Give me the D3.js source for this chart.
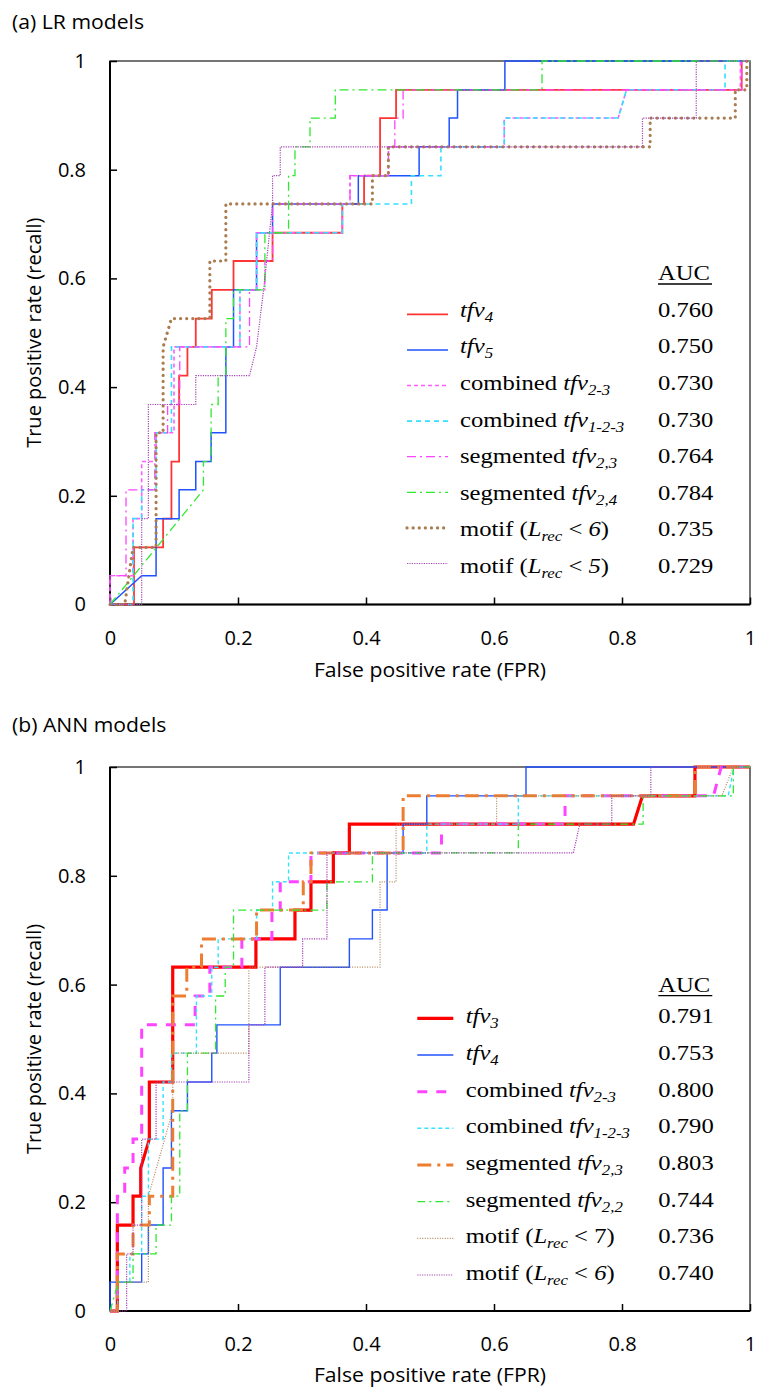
<!DOCTYPE html>
<html>
<head>
<meta charset="utf-8">
<script src="https://cdn.jsdelivr.net/npm/d3@7"></script>
<style>
    body { margin: 0; background: #fff; }
    svg text { font-family: "Open Sans", sans-serif; fill: #000; }
    .legend text { font-family: "Liberation Serif", "Times New Roman", serif; font-size: 22px; white-space: pre; }
</style>
</head>
<body>
<div id="chart"></div>
<script>
// axis ticks, same on both panels
var fprTicks = [0, 0.2, 0.4, 0.6, 0.8, 1];
var tprTicks = [0, 0.2, 0.4, 0.6, 0.8, 1];

// ---- (a) LR models, ROC points as [FPR, TPR] ----
var lrTfv4 = [[0,0],[0.0375,0],[0.0375,0.105],[0.083,0.105],[0.083,0.158],[0.096,0.158],[0.096,0.263],[0.108,0.263],[0.108,0.421],[0.121,0.421],[0.121,0.474],[0.134,0.474],[0.134,0.526],[0.159,0.526],[0.159,0.579],[0.193,0.579],[0.193,0.632],[0.254,0.632],[0.254,0.684],[0.363,0.684],[0.363,0.737],[0.397,0.737],[0.397,0.789],[0.422,0.789],[0.422,0.895],[0.447,0.895],[0.447,0.947],[0.987,0.947],[0.987,1],[1,1]];
var lrTfv5 = [[0,0],[0.0495,0.053],[0.072,0.053],[0.072,0.158],[0.108,0.158],[0.108,0.211],[0.134,0.211],[0.134,0.263],[0.158,0.263],[0.158,0.316],[0.181,0.316],[0.181,0.474],[0.193,0.474],[0.193,0.579],[0.229,0.579],[0.229,0.684],[0.254,0.684],[0.254,0.737],[0.388,0.737],[0.388,0.789],[0.483,0.789],[0.483,0.842],[0.530,0.842],[0.530,0.895],[0.543,0.895],[0.543,0.947],[0.617,0.947],[0.617,1],[1,1]];
var lrCombined23 = [[0,0],[0,0.053],[0.036,0.053],[0.036,0.158],[0.0495,0.158],[0.0495,0.263],[0.072,0.263],[0.072,0.316],[0.1,0.316],[0.1,0.474],[0.203,0.474],[0.203,0.579],[0.229,0.579],[0.229,0.684],[0.363,0.684],[0.363,0.737],[0.375,0.737],[0.375,0.789],[0.435,0.789],[0.435,0.842],[0.616,0.842],[0.616,0.895],[0.794,0.895],[0.807,0.947],[0.985,0.947],[0.985,1],[1,1]];
var lrCombined123 = [[0,0],[0.036,0],[0.036,0.158],[0.0495,0.158],[0.0495,0.211],[0.072,0.211],[0.072,0.316],[0.096,0.316],[0.096,0.474],[0.203,0.474],[0.203,0.579],[0.229,0.579],[0.229,0.684],[0.363,0.684],[0.363,0.737],[0.471,0.737],[0.471,0.789],[0.517,0.789],[0.517,0.842],[0.616,0.842],[0.616,0.895],[0.794,0.895],[0.807,0.947],[0.961,0.947],[0.961,1],[1,1]];
var lrSegmented23 = [[0,0],[0,0.053],[0.025,0.053],[0.025,0.211],[0.07,0.211],[0.07,0.316],[0.09,0.316],[0.09,0.368],[0.109,0.368],[0.109,0.474],[0.218,0.474],[0.218,0.579],[0.242,0.579],[0.242,0.632],[0.254,0.632],[0.254,0.737],[0.375,0.737],[0.375,0.789],[0.435,0.789],[0.435,0.842],[0.445,0.842],[0.445,0.895],[0.458,0.895],[0.458,0.947],[0.987,0.947],[0.987,1],[1,1]];
var lrSegmented24 = [[0,0],[0.146,0.211],[0.146,0.263],[0.158,0.263],[0.158,0.368],[0.169,0.368],[0.169,0.421],[0.181,0.421],[0.181,0.526],[0.193,0.526],[0.193,0.579],[0.242,0.579],[0.242,0.684],[0.279,0.684],[0.279,0.789],[0.289,0.789],[0.289,0.842],[0.3125,0.842],[0.3125,0.895],[0.352,0.895],[0.352,0.947],[0.675,0.947],[0.675,1],[1,1]];
var lrMotif6 = [[0,0],[0.023,0],[0.036,0.105],[0.072,0.105],[0.072,0.316],[0.083,0.316],[0.083,0.474],[0.096,0.526],[0.156,0.526],[0.156,0.632],[0.181,0.632],[0.181,0.737],[0.41,0.737],[0.41,0.789],[0.435,0.789],[0.435,0.842],[0.844,0.842],[0.844,0.895],[0.977,0.895],[0.977,0.947],[0.995,0.947],[0.995,1],[1,1]];
var lrMotif5 = [[0,0],[0.0495,0],[0.0495,0.158],[0.06,0.158],[0.06,0.368],[0.134,0.368],[0.134,0.421],[0.218,0.421],[0.229,0.474],[0.24,0.579],[0.254,0.737],[0.254,0.789],[0.266,0.789],[0.266,0.842],[0.832,0.842],[0.832,0.895],[0.916,0.895],[0.916,1],[1,1]];
var lrAuc = ["0.760", "0.750", "0.730", "0.730", "0.764", "0.784", "0.735", "0.729"];
// label pieces: "" plain, "i" italic, "s" italic subscript
var lrLabels = [
    [["tfv", "i"], ["4", "s"]],
    [["tfv", "i"], ["5", "s"]],
    [["combined ", ""], ["tfv", "i"], ["2-3", "s"]],
    [["combined ", ""], ["tfv", "i"], ["1-2-3", "s"]],
    [["segmented ", ""], ["tfv", "i"], ["2,3", "s"]],
    [["segmented ", ""], ["tfv", "i"], ["2,4", "s"]],
    [["motif (", ""], ["L", "i"], ["rec", "s"], [" < ", ""], ["6", "i"], [")", ""]],
    [["motif (", ""], ["L", "i"], ["rec", "s"], [" < ", ""], ["5", "i"], [")", ""]]
];

// ---- (b) ANN models ----
var annTfv3 = [[0,0],[0.0115,0],[0.0115,0.158],[0.036,0.158],[0.036,0.211],[0.048,0.211],[0.048,0.263],[0.0615,0.316],[0.0615,0.421],[0.098,0.421],[0.098,0.632],[0.228,0.632],[0.228,0.684],[0.289,0.684],[0.289,0.737],[0.314,0.737],[0.314,0.789],[0.349,0.789],[0.349,0.842],[0.374,0.842],[0.374,0.895],[0.818,0.895],[0.832,0.947],[0.914,0.947],[0.914,1],[1,1]];
var annTfv4 = [[0,0],[0,0.053],[0.0495,0.053],[0.0495,0.105],[0.06,0.105],[0.06,0.158],[0.083,0.158],[0.083,0.263],[0.096,0.263],[0.096,0.368],[0.121,0.368],[0.121,0.421],[0.159,0.421],[0.159,0.474],[0.167,0.474],[0.167,0.526],[0.266,0.526],[0.266,0.632],[0.374,0.632],[0.374,0.684],[0.41,0.684],[0.41,0.737],[0.433,0.737],[0.433,0.842],[0.458,0.842],[0.458,0.895],[0.495,0.895],[0.495,0.947],[0.65,0.947],[0.65,1],[1,1]];
var annCombined23 = [[0,0],[0.0115,0],[0.0115,0.211],[0.023,0.211],[0.023,0.263],[0.036,0.263],[0.036,0.316],[0.0495,0.316],[0.0495,0.526],[0.133,0.526],[0.133,0.579],[0.156,0.579],[0.156,0.632],[0.206,0.632],[0.206,0.684],[0.253,0.684],[0.253,0.737],[0.266,0.737],[0.266,0.789],[0.314,0.789],[0.314,0.842],[0.518,0.842],[0.518,0.895],[0.711,0.895],[0.711,0.947],[0.943,0.947],[0.955,1],[1,1]];
var annCombined123 = [[0,0],[0.012,0],[0.012,0.053],[0.031,0.053],[0.031,0.105],[0.0495,0.105],[0.0495,0.211],[0.06,0.211],[0.06,0.316],[0.083,0.316],[0.083,0.421],[0.096,0.421],[0.096,0.474],[0.135,0.474],[0.135,0.579],[0.159,0.579],[0.159,0.632],[0.169,0.632],[0.169,0.684],[0.229,0.684],[0.229,0.737],[0.254,0.737],[0.254,0.789],[0.279,0.789],[0.279,0.842],[0.495,0.842],[0.495,0.895],[0.638,0.895],[0.638,0.947],[0.966,0.947],[0.975,1],[1,1]];
var annSegmented23 = [[0,0],[0.0115,0],[0.0115,0.105],[0.036,0.105],[0.036,0.158],[0.0615,0.158],[0.0615,0.211],[0.098,0.211],[0.098,0.579],[0.12,0.579],[0.12,0.632],[0.143,0.632],[0.143,0.684],[0.229,0.684],[0.229,0.737],[0.302,0.737],[0.302,0.789],[0.314,0.789],[0.314,0.842],[0.458,0.842],[0.458,0.947],[0.914,0.947],[0.914,1],[1,1]];
var annSegmented22 = [[0,0],[0.013,0.053],[0.036,0.053],[0.036,0.105],[0.072,0.105],[0.072,0.158],[0.096,0.158],[0.096,0.211],[0.109,0.211],[0.109,0.368],[0.121,0.368],[0.121,0.474],[0.165,0.474],[0.165,0.579],[0.18,0.579],[0.18,0.632],[0.193,0.632],[0.193,0.737],[0.339,0.737],[0.339,0.789],[0.41,0.789],[0.41,0.842],[0.638,0.842],[0.638,0.895],[0.833,0.895],[0.833,0.947],[0.974,0.947],[0.974,1],[1,1]];
var annMotif7 = [[0,0],[0.0115,0],[0.0115,0.053],[0.06,0.053],[0.06,0.211],[0.098,0.368],[0.098,0.474],[0.217,0.474],[0.217,0.632],[0.422,0.632],[0.422,0.789],[0.447,0.789],[0.447,0.895],[0.604,0.895],[0.604,0.947],[0.956,0.947],[0.974,1],[1,1]];
var annMotif6 = [[0,0],[0.026,0],[0.026,0.105],[0.036,0.105],[0.036,0.158],[0.0495,0.158],[0.0495,0.316],[0.072,0.316],[0.072,0.421],[0.217,0.421],[0.217,0.526],[0.242,0.526],[0.242,0.632],[0.301,0.632],[0.301,0.684],[0.339,0.684],[0.339,0.842],[0.724,0.842],[0.734,0.895],[0.784,0.895],[0.784,0.947],[0.845,0.947],[0.845,1],[1,1]];
var annAuc = ["0.791", "0.753", "0.800", "0.790", "0.803", "0.744", "0.736", "0.740"];
var annLabels = [
    [["tfv", "i"], ["3", "s"]],
    [["tfv", "i"], ["4", "s"]],
    [["combined ", ""], ["tfv", "i"], ["2-3", "s"]],
    [["combined ", ""], ["tfv", "i"], ["1-2-3", "s"]],
    [["segmented ", ""], ["tfv", "i"], ["2,3", "s"]],
    [["segmented ", ""], ["tfv", "i"], ["2,2", "s"]],
    [["motif (", ""], ["L", "i"], ["rec", "s"], [" < 7)", ""]],
    [["motif (", ""], ["L", "i"], ["rec", "s"], [" < ", ""], ["6", "i"], [")", ""]]
];

// line styles (not data)
var lrStyles = [
    { color: "#ff3535", width: 1.8 },
    { color: "#2152ff", width: 1.5 },
    { color: "#ff5cff", width: 1.6, dash: "4,3" },
    { color: "#33dfff", width: 1.6, dash: "5,4" },
    { color: "#ff44ff", width: 1.3, dash: "9,4,2,4" },
    { color: "#2fe82f", width: 1.3, dash: "9,4,2,4" },
    { color: "#a97d50", width: 3.2, dash: "0.1,6", cap: "round" },
    { color: "#a545b5", width: 1.2, dash: "1.2,1.2" }
];
var annStyles = [
    { color: "#ff0000", width: 3.2 },
    { color: "#2152ff", width: 1.4 },
    { color: "#ff44ff", width: 3, dash: "10,9" },
    { color: "#33e3ff", width: 1.4, dash: "4,3" },
    { color: "#ed7d31", width: 3, dash: "14,6,3,6" },
    { color: "#2fe82f", width: 1.3, dash: "8,4,2,4" },
    { color: "#b4875a", width: 1.2, dash: "1,1.5" },
    { color: "#a545b5", width: 1.2, dash: "1.2,1.2" }
];

var svg = d3.select("#chart").append("svg")
    .attr("width", 758)
    .attr("height", 1393);

var panels = [
    {
        title: "(a) LR models", titleY: 29, top: 61, bottom: 604.5,
        series: [lrTfv4, lrTfv5, lrCombined23, lrCombined123, lrSegmented23, lrSegmented24, lrMotif6, lrMotif5],
        styles: lrStyles, labels: lrLabels, auc: lrAuc,
        xTitleY: 677,
        aucX: 658, headY: 280, rowY: 316.7, rowStep: 36.6,
        labelX: 460, lineX: [407, 448], lineY: 314.3, lineStep: 35.6
    },
    {
        title: "(b) ANN models", titleY: 732, top: 767, bottom: 1311,
        series: [annTfv3, annTfv4, annCombined23, annCombined123, annSegmented23, annSegmented22, annMotif7, annMotif6],
        styles: annStyles, labels: annLabels, auc: annAuc,
        xTitleY: 1382,
        aucX: 658.3, headY: 991.7, rowY: 1023.3, rowStep: 36.67,
        labelX: 465.7, lineX: [417.3, 453.3], lineY: 1018.3, lineStep: 36.67
    }
];

function applyStyle(sel, st) {
    sel.attr("fill", "none")
        .attr("stroke", st.color)
        .attr("stroke-width", st.width)
        .attr("stroke-dasharray", st.dash || null)
        .attr("stroke-linecap", st.cap || "butt")
        .attr("stroke-linejoin", "miter");
}

function drawPanel(p) {
    var left = 110, right = 750;
    var x = d3.scaleLinear().domain([0, 1]).range([left, right]);
    var y = d3.scaleLinear().domain([0, 1]).range([p.bottom, p.top]);

    svg.append("text")
        .attr("transform", "translate(12," + p.titleY + ") scale(1.06,1)")
        .style("font-size", "20px")
        .text(p.title);

    // plot frame
    svg.append("rect")
        .attr("x", left).attr("y", p.top)
        .attr("width", right - left).attr("height", p.bottom - p.top)
        .attr("fill", "none").attr("stroke", "#3a3a3a").attr("stroke-width", 1.4);

    var xAxis = svg.append("g")
        .attr("transform", "translate(0," + p.bottom + ")")
        .call(d3.axisBottom(x).tickValues(fprTicks).tickFormat(d3.format("~g")).tickSize(-7).tickPadding(26));
    var yAxis = svg.append("g")
        .attr("transform", "translate(" + left + ",0)")
        .call(d3.axisLeft(y).tickValues(tprTicks).tickFormat(d3.format("~g")).tickSize(-7).tickPadding(24));
    [xAxis, yAxis].forEach(function(a) {
        a.attr("font-family", null).attr("font-size", null);
        a.select(".domain").remove();
        a.selectAll(".tick line").attr("stroke", "#000").attr("stroke-width", 1.5);
        a.selectAll(".tick text").style("font-size", "20px");
    });

    // axis lines
    svg.append("line").attr("x1", left).attr("x2", left).attr("y1", p.top).attr("y2", p.bottom)
        .attr("stroke", "#000").attr("stroke-width", 2);
    svg.append("line").attr("x1", left).attr("x2", right).attr("y1", p.bottom).attr("y2", p.bottom)
        .attr("stroke", "#000").attr("stroke-width", 2);

    // axis titles
    svg.append("text")
        .attr("transform", "translate(" + (left + right) / 2 + "," + p.xTitleY + ") scale(1.06,1)")
        .attr("text-anchor", "middle")
        .style("font-size", "20px")
        .text("False positive rate (FPR)");
    svg.append("text")
        .attr("transform", "translate(41," + (p.top + p.bottom) / 2 + ") rotate(-90)")
        .attr("text-anchor", "middle")
        .style("font-size", "20px")
        .text("True positive rate (recall)");

    // ROC curves
    var line = d3.line()
        .x(function(d) { return x(d[0]); })
        .y(function(d) { return y(d[1]); });
    var curves = svg.append("g").attr("class", "curves");
    p.series.forEach(function(s, i) {
        curves.append("path").datum(s).attr("d", line).call(applyStyle, p.styles[i]);
    });

    // legend with AUC column
    var lg = svg.append("g").attr("class", "legend");
    lg.append("text")
        .attr("transform", "translate(" + p.aucX + "," + p.headY + ") scale(1.12,1)")
        .text("AUC");
    lg.append("line")
        .attr("x1", p.aucX).attr("x2", p.aucX + 54)
        .attr("y1", p.headY + 4).attr("y2", p.headY + 4)
        .attr("stroke", "#000").attr("stroke-width", 1.3);

    p.auc.forEach(function(v, i) {
        lg.append("text")
            .attr("transform", "translate(" + p.aucX + "," + (p.rowY + i * p.rowStep) + ") scale(1.12,1)")
            .text(v);
    });

    p.labels.forEach(function(parts, i) {
        var t = lg.append("text")
            .attr("transform", "translate(" + p.labelX + "," + (p.rowY + i * p.rowStep) + ") scale(1.12,1)");
        var shifted = false;
        parts.forEach(function(part) {
            var ts = t.append("tspan").text(part[0]);
            if (part[1] === "s") {
                ts.style("font-style", "italic").style("font-size", "15px");
                if (!shifted) { ts.attr("dy", 5); shifted = true; }
            } else {
                if (part[1] === "i") ts.style("font-style", "italic");
                if (shifted) { ts.attr("dy", -5); shifted = false; }
            }
        });
    });

    p.styles.forEach(function(st, i) {
        var ly = p.lineY + i * p.lineStep;
        lg.append("line")
            .attr("x1", p.lineX[0]).attr("x2", p.lineX[1])
            .attr("y1", ly).attr("y2", ly)
            .call(applyStyle, st);
    });
}

panels.forEach(drawPanel);
</script>
</body>
</html>
